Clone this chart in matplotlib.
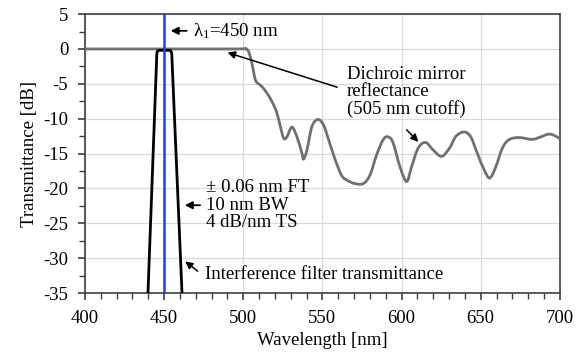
import numpy as np
import matplotlib
matplotlib.use("Agg")
import matplotlib.pyplot as plt
from matplotlib.path import Path
from matplotlib.patches import PathPatch

# dichroic mirror reflectance
dich_nm = [400, 450, 495, 501.3, 503.4, 505.5, 507.6, 509.7, 511.8, 515, 518, 521,
           523.4, 525.5, 527.6, 530.7, 533.9, 537, 538.1, 540.2, 543.4, 547.2, 550.7,
           553.9, 558.1, 562.3, 566.3, 570.5, 575.8, 580, 584.2, 588.4, 591.6, 594.7,
           599, 603.2, 606.3, 610.5, 615.2, 620, 625.3, 630.3, 634.4, 639.5, 643.7,
           647.9, 652.1, 655.7, 659.5, 663.7, 667.9, 674.2, 682.6, 687.9, 693.2,
           697.4, 700]
dich_db = [0, 0, 0, 0, -0.4, -2.1, -4.4, -5.0, -5.4, -6.35, -7.5, -9.0,
           -11.1, -12.8, -12.6, -11.2, -12.6, -14.9, -15.8, -14.5, -11.1, -10.1, -10.9,
           -13.0, -15.9, -18.2, -18.9, -19.3, -19.3, -18.1, -15.2, -13.0, -12.6, -13.5,
           -16.9, -19.0, -16.9, -14.2, -13.4, -14.5, -15.4, -14.2, -12.5, -11.9, -12.6,
           -15.0, -17.3, -18.5, -16.9, -14.2, -13.0, -12.7, -12.96, -12.6, -12.2,
           -12.5, -12.9]

# interference filter transmittance
filt_nm = [439.8, 445.4, 445.8, 446.5, 453.5, 454.3, 454.8, 461.3]
filt_db = [-35, -0.6, -0.3, -0.2, -0.2, -0.3, -0.6, -35]

laser_nm = 450


def smooth_path(x, y):
    # Catmull-Rom through the read points, drawn as cubic Bezier segments
    p = np.column_stack([x, y]).astype(float)
    verts = [p[0]]
    codes = [Path.MOVETO]
    n = len(p)
    for i in range(n - 1):
        p0 = p[i - 1] if i > 0 else p[i]
        p3 = p[i + 2] if i + 2 < n else p[i + 1]
        c1 = p[i] + (p[i + 1] - p0) / 6
        c2 = p[i + 1] - (p3 - p[i]) / 6
        verts += [c1, c2, p[i + 1]]
        codes += [Path.CURVE4] * 3
    return Path(verts, codes)


plt.rcParams['font.family'] = ['Liberation Serif', 'DejaVu Serif']
plt.rcParams['font.size'] = 13.5
plt.rcParams['axes.unicode_minus'] = False

fig = plt.figure(figsize=(5.82, 3.61), dpi=100)
ax = fig.add_axes([0.146, 0.188, 0.816, 0.773])

ax.add_patch(PathPatch(smooth_path(dich_nm, dich_db), fc='none', ec='#707070',
                       lw=2, zorder=3, capstyle='round', joinstyle='round'))
ax.plot(filt_nm, filt_db, color='black', lw=2, zorder=4)
ax.axvline(laser_nm, color='#1f3cff', lw=1.8, zorder=5)

ax.set_xlim(400, 700)
ax.set_ylim(-35, 5)
ax.set_xticks(np.arange(400, 701, 50))
ax.set_xticks(np.arange(400, 701, 10), minor=True)
ax.set_yticks(np.arange(-35, 6, 5))
ax.set_yticks(np.arange(-35, 5.1, 2.5), minor=True)
ax.grid(True, which='major', color='#d9d9d9', lw=0.9)
ax.set_axisbelow(True)
ax.tick_params(which='major', direction='out', length=5, width=1.2, color='#404040', pad=7)
ax.tick_params(which='minor', direction='out', length=4, width=1.0, color='#404040')
for s in ax.spines.values():
    s.set_color('#404040')
    s.set_linewidth(1.2)

ax.set_xlabel('Wavelength [nm]', labelpad=4)
ax.set_ylabel('Transmittance [dB]', labelpad=4)

arrow = dict(arrowstyle='-|>', color='black', lw=1.3, mutation_scale=11)
ax.annotate('', xy=(452.4, 2.6), xytext=(466, 2.6), arrowprops=arrow)
ax.text(468.5, 2.6, r'$\mathregular{\lambda_1}$=450 nm', va='center', ha='left')

ax.annotate('', xy=(488.4, -0.4), xytext=(561, -5.6),
            arrowprops=dict(arrowstyle='-|>', color='black', lw=1.1, mutation_scale=11))
ax.text(565.5, -6.2, 'Dichroic mirror\nreflectance\n(505 nm cutoff)',
        va='center', ha='left', linespacing=1.0)
ax.annotate('', xy=(611.8, -13.6), xytext=(602, -11.3),
            arrowprops=dict(arrowstyle='-|>', color='black', lw=1.1, mutation_scale=11))

ax.text(476.4, -22.4, '\u00b1 0.06 nm FT\n10 nm BW\n4 dB/nm TS',
        va='center', ha='left', linespacing=1.05)
ax.annotate('', xy=(461.3, -22.4), xytext=(474.5, -22.4), arrowprops=arrow)

ax.text(475.8, -32.4, 'Interference filter transmittance', va='center', ha='left')
ax.annotate('', xy=(461.9, -30.2), xytext=(472.6, -32.1),
            arrowprops=dict(arrowstyle='-|>', color='black', lw=1.1, mutation_scale=11))

fig.savefig('out.png', dpi=100)
